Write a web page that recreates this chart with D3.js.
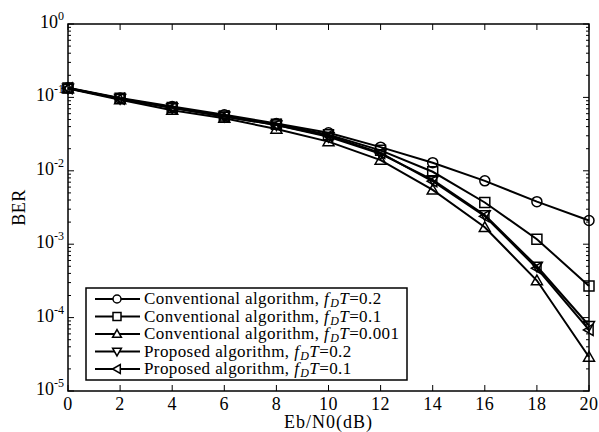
<!DOCTYPE html>
<html>
<head>
<meta charset="utf-8">
<script src="https://cdn.jsdelivr.net/npm/d3@7"></script>
<style>
body { margin: 0; background: #fff; }
text { font-family: "Liberation Serif", "Times New Roman", serif; fill: #000; }
</style>
</head>
<body>
<svg id="chart" width="599" height="432"></svg>
<script>

// data
var snr = [0, 2, 4, 6, 8, 10, 12, 14, 16, 18, 20];

var convA = [0.135, 0.098, 0.075, 0.058, 0.044, 0.033, 0.021, 0.0129, 0.0073, 0.0038, 0.0021];
var convB = [0.134, 0.097, 0.073, 0.056, 0.043, 0.031, 0.019, 0.0097, 0.0037, 0.00117, 0.00027];
var convC = [0.132, 0.093, 0.067, 0.052, 0.037, 0.025, 0.014, 0.0055, 0.0017, 0.00032, 0.000029];
var propA = [0.133, 0.096, 0.072, 0.055, 0.042, 0.029, 0.017, 0.0075, 0.0025, 0.0005, 0.000078];
var propB = [0.133, 0.096, 0.072, 0.055, 0.042, 0.030, 0.0175, 0.0072, 0.0024, 0.00047, 0.000068];

var xTicks = [0, 2, 4, 6, 8, 10, 12, 14, 16, 18, 20];
var yExps = [0, -1, -2, -3, -4, -5];

var labels = ["Conventional algorithm, ", "Conventional algorithm, ", "Conventional algorithm, ",
			"Proposed algorithm, ", "Proposed algorithm, "];
var fdValues = ["0.2", "0.1", "0.001", "0.2", "0.1"];
var markers = ["circle", "square", "up", "down", "left"];

var series = [convA, convB, convC, propA, propB];

var plotLeft = 68, plotRight = 589, plotTop = 24, plotBottom = 391;

var svg = d3.select("#chart");

var x = d3.scaleLinear().domain([0, 20]).range([plotLeft, plotRight]);
var y = d3.scaleLog().domain([1e-5, 1]).range([plotBottom, plotTop]);


function markerPath(type, r) {
	if (type == "square") {
		return "M" + (-r) + "," + (-r) + "H" + r + "V" + r + "H" + (-r) + "Z";
	}
	var h = r * 1.1;
	if (type == "up") {
		return "M0," + (-h) + "L" + h + "," + (h * 0.75) + "L" + (-h) + "," + (h * 0.75) + "Z";
	}
	if (type == "down") {
		return "M0," + h + "L" + h + "," + (-h * 0.75) + "L" + (-h) + "," + (-h * 0.75) + "Z";
	}
	if (type == "left") {
		return "M" + (-h) + ",0L" + (h * 0.75) + "," + (-h) + "L" + (h * 0.75) + "," + h + "Z";
	}
	return d3.arc()({innerRadius: 0, outerRadius: r, startAngle: 0, endAngle: 2 * Math.PI});
}


// minor log ticks
var minor = [];
for (var e = -5; e < 0; e++) {
	for (var m = 2; m <= 9; m++) {
		minor.push(m * Math.pow(10, e));
	}
}

var axes = svg.append("g").attr("stroke", "#000").attr("stroke-width", 1);

axes.selectAll(".mnl").data(minor).enter().append("line")
	.attr("x1", plotLeft).attr("x2", plotLeft + 3)
	.attr("y1", function(d) { return y(d); })
	.attr("y2", function(d) { return y(d); });
axes.selectAll(".mnr").data(minor).enter().append("line")
	.attr("x1", plotRight).attr("x2", plotRight - 3)
	.attr("y1", function(d) { return y(d); })
	.attr("y2", function(d) { return y(d); });

axes.selectAll(".mjl").data(yExps).enter().append("line")
	.attr("x1", plotLeft).attr("x2", plotLeft + 6)
	.attr("y1", function(d) { return y(Math.pow(10, d)); })
	.attr("y2", function(d) { return y(Math.pow(10, d)); });
axes.selectAll(".mjr").data(yExps).enter().append("line")
	.attr("x1", plotRight).attr("x2", plotRight - 6)
	.attr("y1", function(d) { return y(Math.pow(10, d)); })
	.attr("y2", function(d) { return y(Math.pow(10, d)); });

axes.selectAll(".xb").data(xTicks).enter().append("line")
	.attr("x1", function(d) { return x(d); })
	.attr("x2", function(d) { return x(d); })
	.attr("y1", plotBottom).attr("y2", plotBottom - 6);
axes.selectAll(".xt").data(xTicks).enter().append("line")
	.attr("x1", function(d) { return x(d); })
	.attr("x2", function(d) { return x(d); })
	.attr("y1", plotTop).attr("y2", plotTop + 6);

svg.append("rect")
	.attr("x", plotLeft).attr("y", plotTop)
	.attr("width", plotRight - plotLeft).attr("height", plotBottom - plotTop)
	.attr("fill", "none").attr("stroke", "#000").attr("stroke-width", 1.5);

// tick labels
svg.selectAll(".xl").data(xTicks).enter().append("text")
	.attr("x", function(d) { return x(d); })
	.attr("y", plotBottom + 19)
	.attr("text-anchor", "middle")
	.style("font-size", "18px")
	.style("letter-spacing", "0.5px")
	.text(function(d) { return d; });

var yl = svg.selectAll(".yl").data(yExps).enter().append("text")
	.attr("x", plotLeft - 4)
	.attr("y", function(d) { return y(Math.pow(10, d)) + 4; })
	.attr("text-anchor", "end")
	.style("font-size", "18px");
yl.append("tspan").text("10");
yl.append("tspan")
	.attr("dy", -8)
	.style("font-size", "12px")
	.text(function(d) { return d; });

svg.append("text")
	.attr("x", (plotLeft + plotRight) / 2)
	.attr("y", 428)
	.attr("text-anchor", "middle")
	.style("font-size", "18px")
	.style("letter-spacing", "1px")
	.text("Eb/N0(dB)");

svg.append("text")
	.attr("transform", "translate(25," + ((plotTop + plotBottom) / 2) + ") rotate(-90)")
	.attr("text-anchor", "middle")
	.style("font-size", "18px")
	.style("letter-spacing", "0.5px")
	.text("BER");

// curves
var line = d3.line()
	.x(function(d, i) { return x(snr[i]); })
	.y(function(d) { return y(d); });

series.forEach(function(s, k) {
	svg.append("path")
		.attr("d", line(s))
		.attr("fill", "none")
		.attr("stroke", "#000")
		.attr("stroke-width", 2);

	svg.append("g").selectAll("path").data(s).enter().append("path")
		.attr("transform", function(d, i) { return "translate(" + x(snr[i]) + "," + y(d) + ")"; })
		.attr("d", markerPath(markers[k], 5))
		.attr("fill", "none")
		.attr("stroke", "#000")
		.attr("stroke-width", 1.5);
});

// legend
var legend = svg.append("g");
legend.append("rect")
	.attr("x", 86).attr("y", 288)
	.attr("width", 321).attr("height", 92)
	.attr("fill", "#fff").attr("stroke", "#000").attr("stroke-width", 1.5);

labels.forEach(function(lab, k) {
	var ry = 299 + k * 17.5;
	legend.append("line")
		.attr("x1", 95).attr("x2", 140)
		.attr("y1", ry).attr("y2", ry)
		.attr("stroke", "#000").attr("stroke-width", 2);
	legend.append("path")
		.attr("transform", "translate(117," + ry + ")")
		.attr("d", markerPath(markers[k], 4))
		.attr("fill", "#fff")
		.attr("stroke", "#000")
		.attr("stroke-width", 1.5);

	var t = legend.append("text")
		.attr("x", 144).attr("y", ry + 5)
		.style("font-size", "17px")
		.style("letter-spacing", "0.4px");
	t.append("tspan").text(lab);
	t.append("tspan").style("font-style", "italic").text("f");
	t.append("tspan").style("font-style", "italic").style("font-size", "12px")
		.attr("dx", 1).attr("dy", 3).text("D");
	t.append("tspan").style("font-style", "italic").attr("dy", -3).text("T");
	t.append("tspan").text("=" + fdValues[k]);
});

</script>
</body>
</html>
